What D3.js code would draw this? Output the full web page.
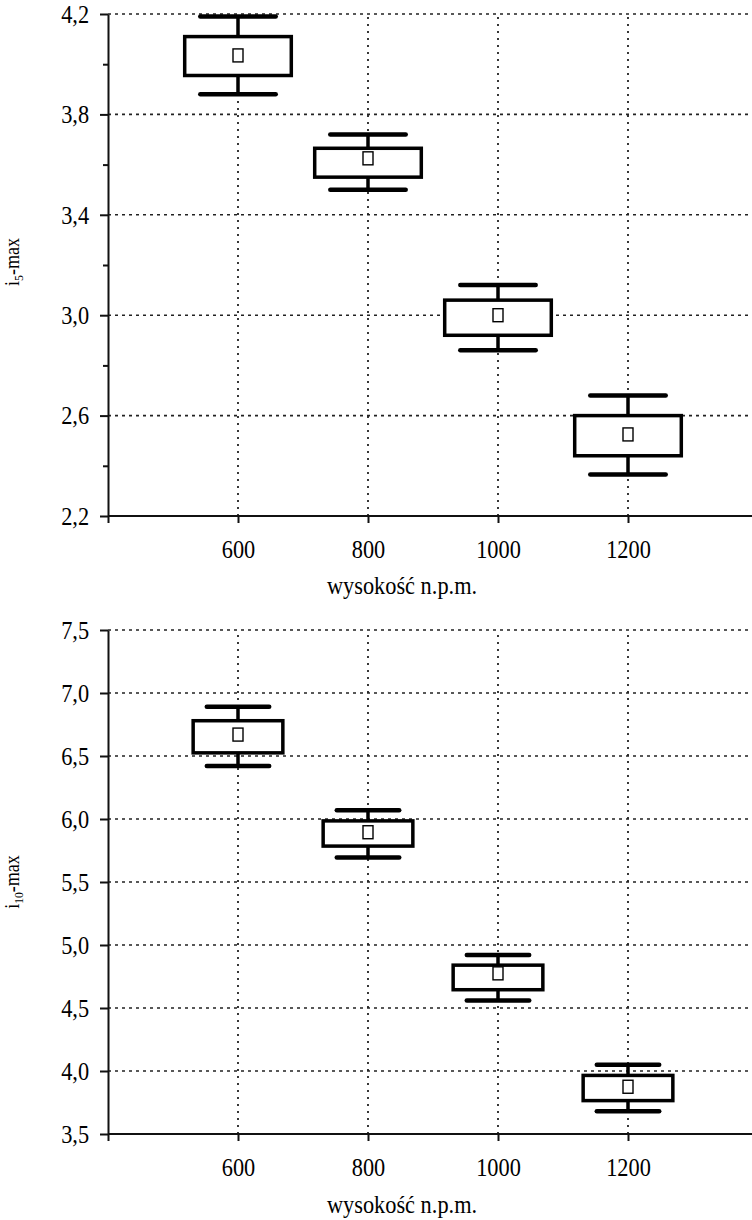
<!DOCTYPE html>
<html>
<head>
<meta charset="utf-8">
<script src="https://cdn.jsdelivr.net/npm/d3@7"></script>
<style>
  body { margin: 0; background: #fff; }
  svg { display: block; }
  svg text { font-family: "Liberation Serif", "DejaVu Serif", serif; fill: #000; }
</style>
</head>
<body>
<svg id="chart" width="752" height="1220"></svg>
<script>
// altitude classes (x axis)
var altitudes = [600, 800, 1000, 1200];
var xTicks = [400, 600, 800, 1000, 1200];

// i5-max: whisker top, box top, mean, box bottom, whisker bottom
var i5High = [4.19, 3.72, 3.12, 2.68];
var i5Q3 = [4.11, 3.665, 3.06, 2.60];
var i5Mean = [4.035, 3.625, 3.00, 2.525];
var i5Q1 = [3.955, 3.55, 2.92, 2.44];
var i5Low = [3.88, 3.50, 2.86, 2.365];
var i5Ticks = [2.2, 2.6, 3.0, 3.4, 3.8, 4.2];
var i5Minor = [2.4, 2.8, 3.2, 3.6, 4.0];

// i10-max
var i10High = [6.89, 6.07, 4.92, 4.05];
var i10Q3 = [6.78, 5.985, 4.84, 3.965];
var i10Mean = [6.67, 5.895, 4.775, 3.875];
var i10Q1 = [6.525, 5.785, 4.645, 3.765];
var i10Low = [6.42, 5.695, 4.56, 3.68];
var i10Ticks = [3.5, 4.0, 4.5, 5.0, 5.5, 6.0, 6.5, 7.0, 7.5];

var plLocale = d3.formatLocale({decimal: ",", thousands: " ", grouping: [3], currency: ["", " zł"]});
var fmt = plLocale.format(".1f");
var squeeze = 0.86; // glyphs in the source are narrow and tall

var svg = d3.select("#chart");

function drawPanel(cfg) {
  var x = d3.scaleLinear().domain([400, 1400]).range([108, 758]);
  var y = d3.scaleLinear().domain(cfg.domain).range([cfg.bottom, cfg.top]);
  var g = svg.append("g");

  // grid
  g.append("g").selectAll("line").data(cfg.ticks.slice(1)).join("line")
    .attr("x1", x(400)).attr("x2", 752)
    .attr("y1", d => y(d)).attr("y2", d => y(d))
    .attr("stroke", "#222").attr("stroke-width", 1.6)
    .attr("stroke-dasharray", "3,4");
  g.append("g").selectAll("line").data(altitudes).join("line")
    .attr("x1", d => x(d)).attr("x2", d => x(d))
    .attr("y1", cfg.bottom).attr("y2", cfg.top)
    .attr("stroke", "#222").attr("stroke-width", 1.8)
    .attr("stroke-dasharray", "2,5");

  // axes
  var yAxis = g.append("g").attr("transform", "translate(" + x(400) + ",0)")
    .call(d3.axisLeft(y).tickValues(cfg.ticks).tickFormat(fmt).tickSize(8).tickSizeOuter(0).tickPadding(14));
  if (cfg.minor) {
    g.append("g").attr("transform", "translate(" + x(400) + ",0)")
      .call(d3.axisLeft(y).tickValues(cfg.minor).tickFormat("").tickSize(5).tickSizeOuter(0))
      .call(a => a.selectAll(".tick line").attr("stroke", "#111").attr("stroke-width", 2))
      .select(".domain").remove();
  }
  var xAxis = g.append("g").attr("transform", "translate(0," + cfg.bottom + ")")
    .call(d3.axisBottom(x).tickValues(xTicks).tickFormat(d => d === 400 ? "" : d)
      .tickSize(7).tickSizeOuter(0).tickPadding(17));
  xAxis.select(".domain").attr("d", "M" + x(400) + ",0H752");
  [yAxis, xAxis].forEach(function (a) {
    a.attr("font-family", null).attr("font-size", null);
    a.selectAll(".domain, .tick line").attr("stroke", "#111").attr("stroke-width", 2);
    a.selectAll("text").style("font-size", "26px").attr("transform", "scale(" + squeeze + ",1)");
  });

  // boxes
  var idx = d3.range(altitudes.length);
  var bx = g.append("g");
  bx.selectAll(".whisker").data(idx).join("line")
    .attr("x1", i => x(altitudes[i])).attr("x2", i => x(altitudes[i]))
    .attr("y1", i => y(cfg.high[i])).attr("y2", i => y(cfg.low[i]))
    .attr("stroke", "#000").attr("stroke-width", 3.5);
  [cfg.high, cfg.low].forEach(function (arr) {
    bx.append("g").selectAll("line").data(idx).join("line")
      .attr("x1", i => x(altitudes[i] - cfg.cap)).attr("x2", i => x(altitudes[i] + cfg.cap))
      .attr("y1", i => y(arr[i])).attr("y2", i => y(arr[i]))
      .attr("stroke", "#000").attr("stroke-width", 4.5).attr("stroke-linecap", "round");
  });
  bx.append("g").selectAll("rect").data(idx).join("rect")
    .attr("x", i => x(altitudes[i] - cfg.half))
    .attr("width", i => x(altitudes[i] + cfg.half) - x(altitudes[i] - cfg.half))
    .attr("y", i => y(cfg.q3[i]))
    .attr("height", i => y(cfg.q1[i]) - y(cfg.q3[i]))
    .attr("fill", "#fff").attr("stroke", "#000").attr("stroke-width", 3.5);
  bx.append("g").selectAll("rect").data(idx).join("rect")
    .attr("x", i => x(altitudes[i]) - 5).attr("width", 10)
    .attr("y", i => y(cfg.mean[i]) - 6.5).attr("height", 13)
    .attr("fill", "#fff").attr("stroke", "#000").attr("stroke-width", 1.4);

  // labels
  var yl = g.append("text")
    .attr("transform", "translate(19," + cfg.labelY + ") rotate(-90) scale(0.9,1)")
    .attr("text-anchor", "middle").style("font-size", "20px");
  yl.append("tspan").text("i");
  yl.append("tspan").style("font-size", "13px").attr("dy", 4).text(cfg.sub);
  yl.append("tspan").attr("dy", -4).text("-max");

  g.append("text")
    .attr("transform", "translate(402," + cfg.titleY + ") scale(" + squeeze + ",1)")
    .attr("text-anchor", "middle").style("font-size", "26px")
    .text("wysokość n.p.m.");
}

drawPanel({
  domain: [2.2, 4.2], top: 14, bottom: 516, ticks: i5Ticks, minor: i5Minor,
  high: i5High, q3: i5Q3, mean: i5Mean, q1: i5Q1, low: i5Low,
  half: 82, cap: 58, sub: "5", labelY: 262, titleY: 594
});
drawPanel({
  domain: [3.5, 7.5], top: 630, bottom: 1134, ticks: i10Ticks, minor: null,
  high: i10High, q3: i10Q3, mean: i10Mean, q1: i10Q1, low: i10Low,
  half: 69, cap: 48, sub: "10", labelY: 882, titleY: 1213
});
</script>
</body>
</html>
